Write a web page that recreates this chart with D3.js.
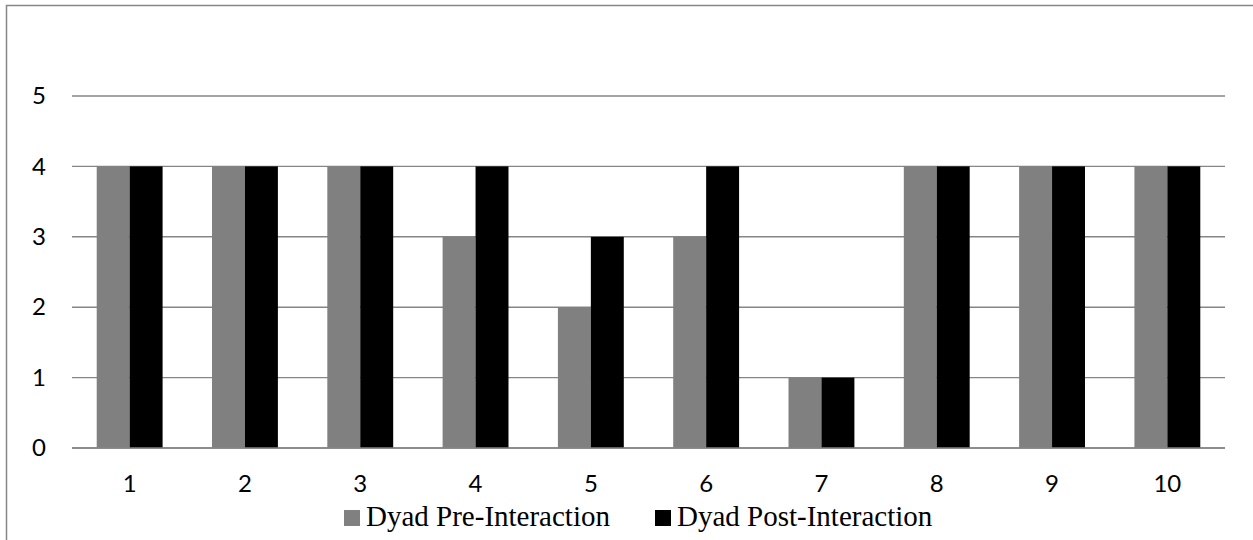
<!DOCTYPE html>
<html>
<head>
<meta charset="utf-8">
<script src="https://cdn.jsdelivr.net/npm/d3@7"></script>
<style>
  html, body { margin: 0; padding: 0; background: #fff; }
  svg { display: block; }
</style>
</head>
<body>
<svg id="chart" width="1253" height="540"></svg>
<script>
// Dyad ratings before and after the interaction
const categories = ["1", "2", "3", "4", "5", "6", "7", "8", "9", "10"];
const preInteraction = [4, 4, 4, 3, 2, 3, 1, 4, 4, 4];
const postInteraction = [4, 4, 4, 4, 3, 4, 1, 4, 4, 4];
const seriesNames = ["Dyad Pre-Interaction", "Dyad Post-Interaction"];
const seriesColors = ["#808080", "#000000"];
const yTicks = [0, 1, 2, 3, 4, 5];

const svg = d3.select("#chart");
const W = 1253, H = 540;
const plot = { left: 72, right: 1225, top: 96, bottom: 448 };
const axisFont = "Lato, 'Open Sans', sans-serif";

// Outer chart frame
svg.append("rect")
  .attr("x", 6.5).attr("y", 5.5)
  .attr("width", W + 10).attr("height", H + 10)
  .attr("fill", "none").attr("stroke", "#868686").attr("stroke-width", 1.5);

const x0 = d3.scaleBand().domain(categories).range([plot.left, plot.right]).paddingInner(0).paddingOuter(0);
const y = d3.scaleLinear().domain([0, 5]).range([plot.bottom, plot.top]);

// Horizontal gridlines
svg.append("g")
  .selectAll("line")
  .data(yTicks)
  .join("line")
  .attr("x1", plot.left).attr("x2", plot.right)
  .attr("y1", d => y(d)).attr("y2", d => y(d))
  .attr("stroke", "#868686").attr("stroke-width", 1.4);

// Y-axis labels
const yAxis = d3.axisLeft(y).tickValues(yTicks).tickSize(0).tickPadding(0).tickFormat(d3.format("d"));
const yg = svg.append("g").attr("transform", `translate(46,0)`).call(yAxis);
yg.select(".domain").remove();
yg.selectAll("text")
  .attr("text-anchor", "end")
  .attr("font-family", axisFont)
  .attr("font-size", 24).attr("fill", "#000");

// Bars: two series side by side in each category, 150% gap between groups
const band = x0.bandwidth();
const barW = band / 3.5;
const series = [preInteraction, postInteraction];
const x1 = d3.scaleBand().domain([0, 1]).range([0, barW * 2]);

const groups = svg.append("g")
  .selectAll("g")
  .data(categories)
  .join("g")
  .attr("transform", d => `translate(${x0(d) + band / 2 - barW},0)`);

groups.selectAll("rect")
  .data((d, i) => series.map((s, k) => ({ k, v: s[i] })))
  .join("rect")
  .attr("x", d => x1(d.k))
  .attr("width", x1.bandwidth())
  .attr("y", d => y(d.v))
  .attr("height", d => y(0) - y(d.v))
  .attr("fill", d => seriesColors[d.k]);

// Baseline drawn over the bars
svg.append("line")
  .attr("x1", plot.left).attr("x2", plot.right)
  .attr("y1", y(0)).attr("y2", y(0))
  .attr("stroke", "#868686").attr("stroke-width", 1.4);

// X-axis labels
const xAxis = d3.axisBottom(x0).tickSize(0).tickPadding(0);
const xg = svg.append("g").attr("transform", `translate(0,492)`).call(xAxis);
xg.select(".domain").remove();
xg.selectAll("text")
  .attr("dy", 0)
  .attr("font-family", axisFont)
  .attr("font-size", 24).attr("fill", "#000");

// Legend
const legend = svg.append("g")
  .attr("font-family", "'Liberation Serif', 'Times New Roman', serif")
  .attr("font-size", 29);
const legendItems = [
  { name: seriesNames[0], color: seriesColors[0], x: 344 },
  { name: seriesNames[1], color: seriesColors[1], x: 655 }
];
legendItems.forEach(it => {
  legend.append("rect").attr("x", it.x).attr("y", 510).attr("width", 16).attr("height", 16).attr("fill", it.color);
  legend.append("text").attr("x", it.x + 22).attr("y", 526).attr("fill", "#000").text(it.name);
});
</script>
</body>
</html>
